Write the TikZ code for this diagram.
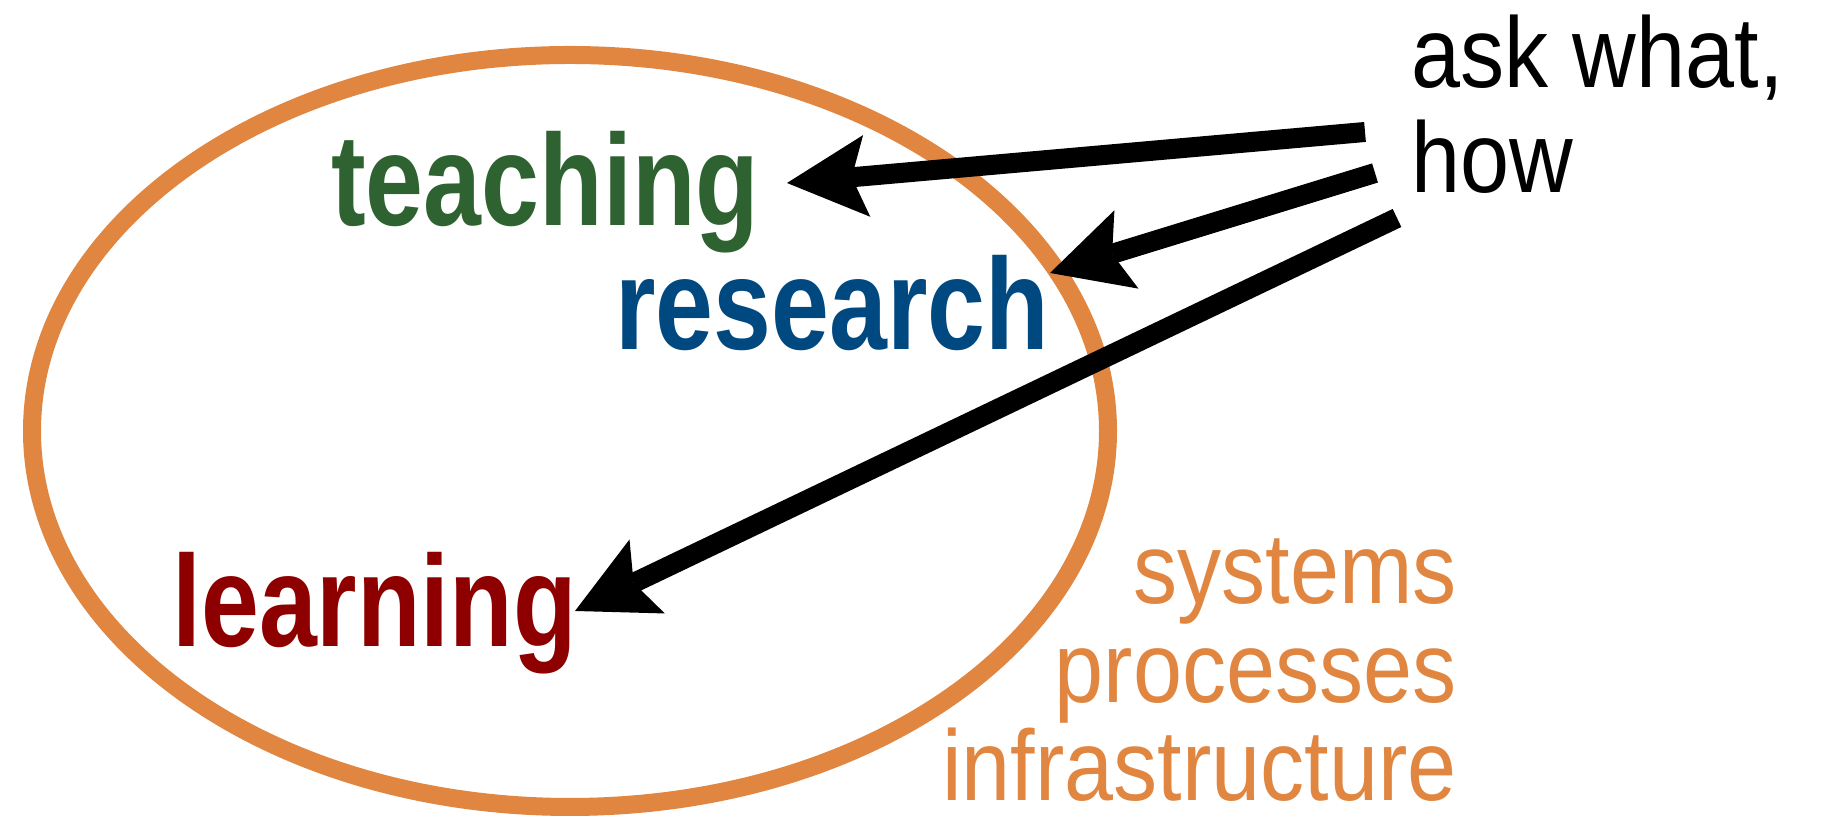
\documentclass[tikz,border=0pt]{standalone}
\usepackage{fontspec}
\setmainfont{Liberation Sans}
\newfontfamily\boldnarrow[FakeStretch=0.8]{Liberation Sans Bold}
\newfontfamily\narrow[FakeStretch=0.88]{Liberation Sans}
\usetikzlibrary{arrows.meta}
\definecolor{ringorange}{RGB}{224,134,64}
\definecolor{teachgreen}{RGB}{46,98,48}
\definecolor{resblue}{RGB}{0,72,128}
\definecolor{learnred}{RGB}{142,0,0}
\tikzset{
	topic/.style={anchor=base west,inner sep=0pt,font=\boldnarrow\fontsize{74}{74}\selectfont},
	aspect/.style={anchor=base east,inner sep=0pt,text=ringorange,font=\narrow\fontsize{57}{57}\selectfont},
	query/.style={anchor=base west,inner sep=0pt,font=\narrow\fontsize{57}{57}\selectfont},
	pointer/.style={line width=0.4cm,-{Stealth[length=1.6cm,width=1.64cm,inset=0.3cm,line width=0pt]}}
}
\begin{document}
\begin{tikzpicture}
	\useasboundingbox (0,0) rectangle (36.42,16.38);
	\draw[ringorange,line width=0.36cm] (11.40,7.76) ellipse (10.76 and 7.52);
	\node[topic,text=teachgreen] (teach) at (6.62,11.86) {teaching};
	\node[topic,text=resblue] (res) at (12.30,9.38) {research};
	\node[topic,text=learnred] (learn) at (3.44,3.44) {learning};
	\node[aspect] (sys) at (29.14,4.30) {systems};
	\node[aspect] (proc) at (29.14,2.32) {processes};
	\node[aspect] (infra) at (29.14,0.36) {infrastructure};
	\node[query] (ask) at (28.22,14.62) {ask what,};
	\node[query] (how) at (28.22,12.52) {how};
	\coordinate (t1) at (27.30,13.74);
	\coordinate (t2) at (27.50,12.92);
	\coordinate (t3) at (27.94,12.02);
	\coordinate (h1) at (15.74,12.72);
	\coordinate (h2) at (21.00,10.92);
	\coordinate (h3) at (11.50,4.16);
	\draw[pointer] (t1) -- (h1);
	\draw[pointer] (t2) -- (h2);
	\draw[pointer] (t3) -- (h3);
\end{tikzpicture}
\end{document}
